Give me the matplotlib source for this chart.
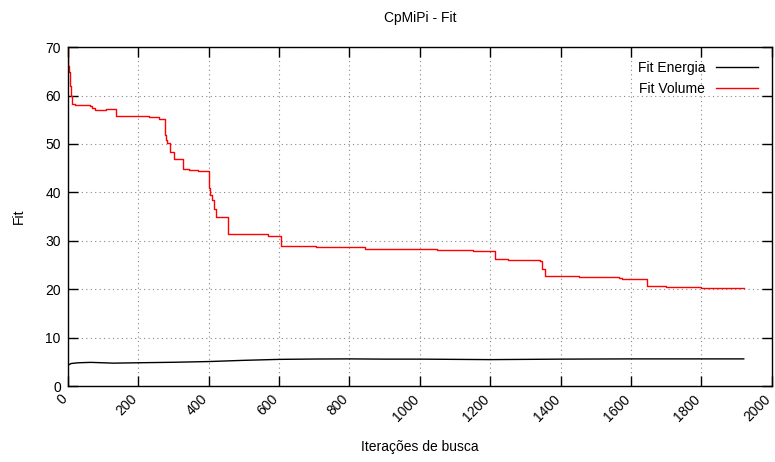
import matplotlib
matplotlib.use("Agg")
import matplotlib.pyplot as plt
import matplotlib.transforms as mtransforms

plt.rcParams['font.family'] = ['Liberation Sans', 'DejaVu Sans']

# Fit Volume (red) - step data
vol_iter = [0, 2, 5, 7, 9, 12, 20, 63, 70, 78, 100, 110, 136, 180, 230, 260,
            276, 279, 281, 290, 302, 326, 345, 370, 401, 405, 410, 415, 420,
            440, 455, 520, 568, 605, 706, 843, 950, 1050, 1150, 1213, 1250,
            1340, 1348, 1355, 1453, 1567, 1575, 1645, 1700, 1800, 1920]
vol_fit = [70, 66, 64.9, 62, 60, 58.2, 58.0, 57.9, 57.5, 57.0, 57.1, 57.3, 55.8,
           55.7, 55.5, 55.2, 51.8, 50.8, 50.1, 48.4, 46.9, 44.9, 44.6, 44.4,
           40.8, 39.5, 38.4, 36.5, 35.0, 34.9, 31.3, 31.4, 31.0, 29.0, 28.8,
           28.4, 28.2, 28.0, 27.8, 26.3, 26.1, 25.8, 24.2, 22.7, 22.6, 22.3,
           22.0, 20.6, 20.4, 20.3, 20.2]

# Fit Energia (black)
en_iter = [0, 3, 10, 30, 66, 130, 200, 300, 400, 500, 600, 700, 800, 900,
           1000, 1100, 1200, 1300, 1400, 1600, 1920]
en_fit = [4.0, 4.4, 4.65, 4.8, 4.88, 4.72, 4.8, 4.9, 5.05, 5.3, 5.5, 5.57,
          5.6, 5.55, 5.55, 5.5, 5.45, 5.5, 5.55, 5.6, 5.6]

x_ticks = list(range(0, 2001, 200))
y_ticks = list(range(0, 71, 10))

fig = plt.figure(figsize=(7.75, 4.62), dpi=100)
ax = fig.add_axes([0.0874, 0.1645, 0.9086, 0.7335])

ax.plot(en_iter, en_fit, color='black', lw=1.0, label='Fit Energia')
ax.plot(vol_iter, vol_fit, color='#ff0000', lw=1.0, drawstyle='steps-post',
        label='Fit Volume')

ax.set_xlim(0, 2000)
ax.set_ylim(0, 70)
ax.set_xticks(x_ticks)
ax.set_yticks(y_ticks)
ax.set_xticklabels([str(v) for v in x_ticks], rotation=45, ha='right',
                   va='center', rotation_mode='anchor', fontsize=10)
ax.set_yticklabels([str(v) for v in y_ticks], fontsize=10)
ax.tick_params(direction='in', length=7, width=1, top=True, right=True,
               pad=5)
ax.tick_params(axis='x', pad=8)
offset = mtransforms.ScaledTranslation(-3 / 100, 0, fig.dpi_scale_trans)
for lbl in ax.get_xticklabels():
    lbl.set_transform(lbl.get_transform() + offset)

ax.grid(True, color='#888888', linestyle=(0, (1, 3)), lw=0.8)
for s in ax.spines.values():
    s.set_linewidth(1.0)

ax.set_title('CpMiPi - Fit', fontsize=10, pad=18)
ax.set_xlabel('Iterações de busca', fontsize=10, va='center')
ax.xaxis.set_label_coords(0.5, -0.18)
ax.set_ylabel('Fit', fontsize=10, labelpad=14)

leg = ax.legend(loc='upper right', frameon=False, markerfirst=False,
                fontsize=10, handlelength=3.0, borderaxespad=0.6,
                labelspacing=0.5)

fig.savefig('out.png', dpi=100)
